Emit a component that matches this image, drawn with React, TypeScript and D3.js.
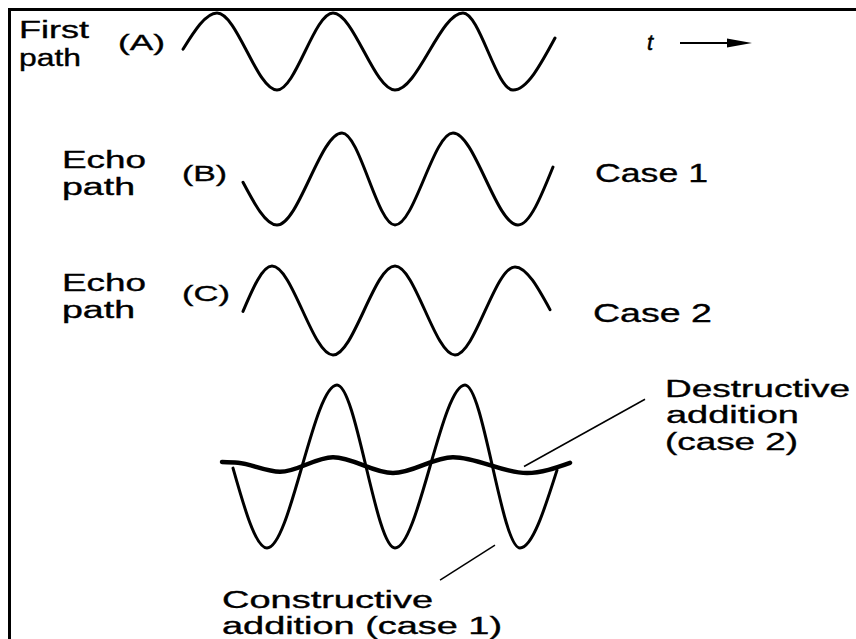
import React from 'react';
import * as d3 from 'd3';

// time in arbitrary units (0..100), amplitude in relative units
const firstPath = [
	{ t: 0.75, v: 0.06 }, { t: 9.25, v: 1 }, { t: 24.25, v: -1 }, { t: 38.25, v: 1 },
	{ t: 53.75, v: -1 }, { t: 70.75, v: 1 }, { t: 83.25, v: -1 }, { t: 93.75, v: 0.35 },
];

const echoCase1 = [
	{ t: 15.75, v: -0.07 }, { t: 24.25, v: -1 }, { t: 40.5, v: 1 }, { t: 53.75, v: -1 },
	{ t: 68.25, v: 1 }, { t: 84.5, v: -1 }, { t: 93.25, v: 0.26 },
];

const echoCase2 = [
	{ t: 15.75, v: -0.02 }, { t: 23, v: 1 }, { t: 38.25, v: -1 }, { t: 53.75, v: 1 },
	{ t: 68.75, v: -1 }, { t: 83.75, v: 0.98 }, { t: 92.5, v: 0.02 },
];

const constructive = [
	{ t: 13.25, v: -0.04 }, { t: 21.75, v: -2 }, { t: 39.25, v: 2 }, { t: 53.75, v: -2 },
	{ t: 71.25, v: 2 }, { t: 85, v: -2 }, { t: 94.25, v: -0.09 },
];

const destructive = [
	{ t: 10.5, v: 0.11 }, { t: 14.5, v: 0.09 }, { t: 25, v: -0.13 }, { t: 38.25, v: 0.23 },
	{ t: 53.25, v: -0.16 }, { t: 68.25, v: 0.23 }, { t: 86.75, v: -0.16 }, { t: 97.5, v: 0.09 },
];

const pathLabels = ['First', 'Echo', 'Echo'];
const rowLetters = ['(A)', '(B)', '(C)'];
const caseLabels = ['Case 1', 'Case 2'];
const destructiveLabel = ['Destructive', 'addition', '(case 2)'];
const constructiveLabel = ['Constructive', 'addition (case 1)'];

const W = 856;
const H = 639;
const font = '"Liberation Sans", Arial, Helvetica, sans-serif';

const Label = ( { x, y, w, size, children } ) => (
	<text
		x={x}
		y={y}
		textLength={w}
		lengthAdjust="spacingAndGlyphs"
		fontSize={size}
		fontFamily={font}
		fill="#000"
		stroke="#000"
		strokeWidth={0.35}
	>
		{children}
	</text>
);

export default function App() {
	const x = d3.scaleLinear().domain( [ 0, 100 ] ).range( [ 180, 580 ] );
	const yA = d3.scaleLinear().domain( [ -1, 1 ] ).range( [ 90, 13 ] );
	const yB = d3.scaleLinear().domain( [ -1, 1 ] ).range( [ 225, 133 ] );
	const yC = d3.scaleLinear().domain( [ -1, 1 ] ).range( [ 355, 266 ] );
	const ySum = d3.scaleLinear().domain( [ -2, 2 ] ).range( [ 548, 385 ] );

	const line = ( y ) =>
		d3
			.line()
			.x( ( d ) => x( d.t ) )
			.y( ( d ) => y( d.v ) )
			.curve( d3.curveMonotoneX );

	const waves = [
		{ data: firstPath, y: yA, w: 3 },
		{ data: echoCase1, y: yB, w: 3 },
		{ data: echoCase2, y: yC, w: 3 },
		{ data: constructive, y: ySum, w: 3 },
		{ data: destructive, y: ySum, w: 4.5 },
	];

	return (
		<svg
			width={W}
			height={H}
			style={{ position: 'absolute', left: 0, top: 0, background: '#fff' }}
		>
			<rect width={W} height={H} fill="#fff" />
			{/* frame */}
			<path d={`M${W},9.5 H9.5 V${H}`} fill="none" stroke="#000" strokeWidth={3} />

			{waves.map( ( w, i ) => (
				<path
					key={i}
					d={line( w.y )( w.data )}
					fill="none"
					stroke="#000"
					strokeWidth={w.w}
					strokeLinecap="round"
					strokeLinejoin="round"
				/>
			) )}

			{/* leader lines */}
			<line x1={x( 86 )} y1={ySum( 0 )} x2={x( 116.25 )} y2={ySum( 1.65 )} stroke="#000" strokeWidth={1.5} />
			<line x1={x( 78.75 )} y1={ySum( -1.93 )} x2={x( 65 )} y2={ySum( -2.79 )} stroke="#000" strokeWidth={1.5} />

			{/* time arrow */}
			<text x={647} y={50} fontSize={22} fontStyle="italic" fontFamily={font} stroke="#000" strokeWidth={0.5}>t</text>
			<line x1={680} y1={43} x2={732} y2={43} stroke="#000" strokeWidth={2} />
			<path d="M752,43 L727,38.5 L727,47.5 Z" fill="#000" />

			{/* left labels */}
			<Label x={19} y={38} w={70} size={23}>{pathLabels[0]}</Label>
			<Label x={19} y={66} w={62} size={23}>path</Label>
			<Label x={118} y={50} w={47} size={22}>{rowLetters[0]}</Label>

			<Label x={62} y={168} w={84} size={23}>{pathLabels[1]}</Label>
			<Label x={62} y={195} w={73} size={23}>path</Label>
			<Label x={182} y={181} w={45} size={22}>{rowLetters[1]}</Label>

			<Label x={62} y={291} w={84} size={23}>{pathLabels[2]}</Label>
			<Label x={62} y={318} w={73} size={23}>path</Label>
			<Label x={182} y={301} w={48} size={22}>{rowLetters[2]}</Label>

			{/* right labels */}
			<Label x={595} y={182} w={113} size={26}>{caseLabels[0]}</Label>
			<Label x={593} y={322} w={119} size={26}>{caseLabels[1]}</Label>

			<Label x={665} y={397} w={185} size={23}>{destructiveLabel[0]}</Label>
			<Label x={666} y={423} w={133} size={23}>{destructiveLabel[1]}</Label>
			<Label x={665} y={450} w={133} size={23}>{destructiveLabel[2]}</Label>

			<Label x={222} y={608} w={211} size={23}>{constructiveLabel[0]}</Label>
			<Label x={222} y={634} w={280} size={23}>{constructiveLabel[1]}</Label>
		</svg>
	);
}
